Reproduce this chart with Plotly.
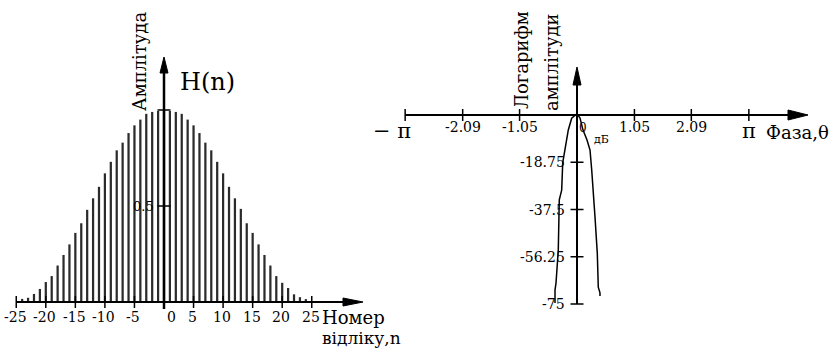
import plotly.graph_objects as go
import numpy as np

# ---------------- data ----------------
n_index = list(range(-24, 25))
amplitude = [0.016, 0.022, 0.042, 0.068, 0.104, 0.135, 0.19, 0.245, 0.30, 0.36, 0.41, 0.48,
             0.54, 0.60, 0.67, 0.73, 0.79, 0.83, 0.88, 0.92, 0.95, 0.98, 0.99, 0.995,
             1.0,
             0.995, 0.99, 0.98, 0.95, 0.92, 0.88, 0.83, 0.79, 0.73, 0.67, 0.60, 0.54,
             0.485, 0.41, 0.36, 0.30, 0.245, 0.19, 0.135, 0.10, 0.073, 0.04, 0.025, 0.015]

n_ticks = [-25, -20, -15, -10, -5, 0, 5, 10, 15, 20, 25]
n_tick_labels = ["-25", "-20", "-15", "-10", "-5", "0", "5", "10", "15", "20", "25"]
amp_ticks = [0.5, 1.0]
amp_tick_labels = ["0.5", ""]

phase = [-0.402, -0.402, -0.384, -0.342, -0.324, -0.280, -0.261, -0.219, -0.201, -0.159,
         -0.097, 0.0, 0.055, 0.110, 0.183, 0.238, 0.269, 0.298, 0.329, 0.371, 0.389,
         0.420, 0.420]
log_amp_db = [-74.6, -69.4, -66.7, -53.6, -33.7, -29.8, -19.0, -13.9, -10.6, -5.95,
              -1.3, 0.5, -1.2, -6.0, -9.9, -13.9, -21.8, -29.8, -40.5, -54.8, -68.3,
              -70.6, -71.8]

phase_ticks = [-np.pi, -2.09, -1.05, 0.0, 1.05, 2.09, np.pi]
phase_tick_labels = ["", "-2.09", "-1.05", "", "1.05", "2.09", ""]
db_ticks = [-18.75, -37.5, -56.25, -75]
db_tick_labels = ["-18.75", "-37.5", "-56.25", "-75"]

# ---------------- geometry (pixel scales) ----------------
W, H = 833, 352
L_X0, L_PXN = 164.0, 5.91      # left chart: px of n=0, px per sample
L_Y0, L_PXV = 302.0, 192.0     # left chart: px of 0 amplitude, px per unit
R_X0, R_PXR = 577.0, 54.7      # right chart: px of phase 0, px per rad
R_Y0, R_PXD = 115.0, 2.52      # right chart: px of 0 dB, px per dB

SERIF = "DejaVu Serif"

fig = go.Figure()
fig.add_trace(go.Bar(x=n_index, y=amplitude, width=0.38,
                     marker=dict(color="#2b2b2b", line=dict(width=0)),
                     xaxis="x", yaxis="y", hoverinfo="skip"))
fig.add_trace(go.Scatter(x=phase, y=log_amp_db, mode="lines",
                         line=dict(color="black", width=1.5),
                         xaxis="x2", yaxis="y2", hoverinfo="skip"))

shapes = []
ann = []

def lx(px):
    return (px - L_X0) / L_PXN

def ly(py):
    return (L_Y0 - py) / L_PXV

def rx(px):
    return (px - R_X0) / R_PXR

def ry(py):
    return (R_Y0 - py) / R_PXD

def line(x0, y0, x1, y1, ref, w=2):
    xr, yr = ("x", "y") if ref == "L" else ("x2", "y2")
    shapes.append(dict(type="line", x0=x0, y0=y0, x1=x1, y1=y1, xref=xr, yref=yr,
                       line=dict(color="black", width=w)))

def tri(pts, ref):
    xr, yr = ("x", "y") if ref == "L" else ("x2", "y2")
    path = "M " + " L ".join(f"{a},{b}" for a, b in pts) + " Z"
    shapes.append(dict(type="path", path=path, xref=xr, yref=yr,
                       fillcolor="black", line=dict(color="black", width=1)))

def text(t, x, y, ref, size=15, xa="center", ya="middle", angle=0, xs=0, ys=0):
    xr, yr = ("x", "y") if ref == "L" else ("x2", "y2")
    ann.append(dict(text=t, x=x, y=y, xref=xr, yref=yr, showarrow=False,
                    xanchor=xa, yanchor=ya, textangle=angle, xshift=xs, yshift=ys,
                    font=dict(family=SERIF, size=size, color="black")))

# ---- left chart axes ----
tip_x = lx(363)
line(-25, 0, tip_x - 18 / L_PXN, 0, "L", 2)
tri([(tip_x, 0), (tip_x - 20 / L_PXN, 4 / L_PXV), (tip_x - 20 / L_PXN, -4 / L_PXV)], "L")
tip_y = ly(57)
line(0, ly(309), 0, tip_y - 14 / L_PXV, "L", 2.5)
tri([(0, tip_y), (4 / L_PXN, tip_y - 16 / L_PXV), (-4 / L_PXN, tip_y - 16 / L_PXV)], "L")
for t, lab in zip(n_ticks, n_tick_labels):
    line(t, -6 / L_PXV, t, 6 / L_PXV, "L", 1.5)
    text(lab, t, 0, "L", 14, "center", "top", xs=(7 if t == 0 else -1), ys=-5)
for t, lab in zip(amp_ticks, amp_tick_labels):
    line(-6.5 / L_PXN, t, 6.5 / L_PXN, t, "L", 1.5)
    if lab:
        text(lab, 0, t, "L", 13, "right", "middle", xs=-8)
text("H(n)", lx(178), ly(82), "L", 24, "left", "middle")
text("Амплітуда", lx(139), ly(62), "L", 18, "center", "middle", angle=-90)
text("Номер", lx(320), ly(317), "L", 18, "left", "middle")
text("відліку,n", lx(320), ly(338), "L", 17, "left", "middle")

# ---- right chart axes ----
rtip_x = rx(808)
line(-np.pi, 0, rtip_x - 18 / R_PXR, 0, "R", 2)
tri([(rtip_x, 0), (rtip_x - 20 / R_PXR, 5 / R_PXD), (rtip_x - 20 / R_PXR, -5 / R_PXD)], "R")
rtip_y = ry(67)
line(0, -75, 0, rtip_y - 14 / R_PXD, "R", 2)
tri([(0, rtip_y), (4 / R_PXR, rtip_y - 18 / R_PXD), (-4 / R_PXR, rtip_y - 18 / R_PXD)], "R")
for t, lab in zip(phase_ticks, phase_tick_labels):
    line(t, -6 / R_PXD, t, 6 / R_PXD, "R", 1.5)
    if lab:
        text(lab, t, 0, "R", 14, "center", "top", ys=-2)
for t, lab in zip(db_ticks, db_tick_labels):
    line(-6.5 / R_PXR, t, 6.5 / R_PXR, t, "R", 1.5)
    text(lab, rx(567), t, "R", 14, "right", "middle")
text("− π", rx(392), ry(131), "R", 21, "center", "middle")
text("π", np.pi, ry(131), "R", 21, "center", "middle")
text("Фаза,θ", rx(764), ry(132), "R", 18, "left", "middle")
text("0", rx(583), ry(128), "R", 12, "center", "middle")
text("дБ", rx(601), ry(139), "R", 11, "center", "middle")
text("Логарифм", rx(521), ry(111), "R", 18, "center", "bottom", angle=-90)
text("амплітуди", rx(551), ry(113), "R", 18, "center", "bottom", angle=-90)

fig.update_layout(
    width=W, height=H, margin=dict(l=0, r=0, t=0, b=0),
    paper_bgcolor="white", plot_bgcolor="white", showlegend=False,
    xaxis=dict(domain=[0, 1], range=[lx(0), lx(W)], visible=False, fixedrange=True),
    yaxis=dict(domain=[0, 1], range=[ly(H), ly(0)], visible=False, fixedrange=True),
    xaxis2=dict(domain=[0, 1], range=[rx(0), rx(W)], visible=False, overlaying="x",
                anchor="y2", fixedrange=True),
    yaxis2=dict(domain=[0, 1], range=[ry(H), ry(0)], visible=False, overlaying="y",
                anchor="x2", fixedrange=True),
    shapes=shapes, annotations=ann,
)

fig.write_html("out.html")
